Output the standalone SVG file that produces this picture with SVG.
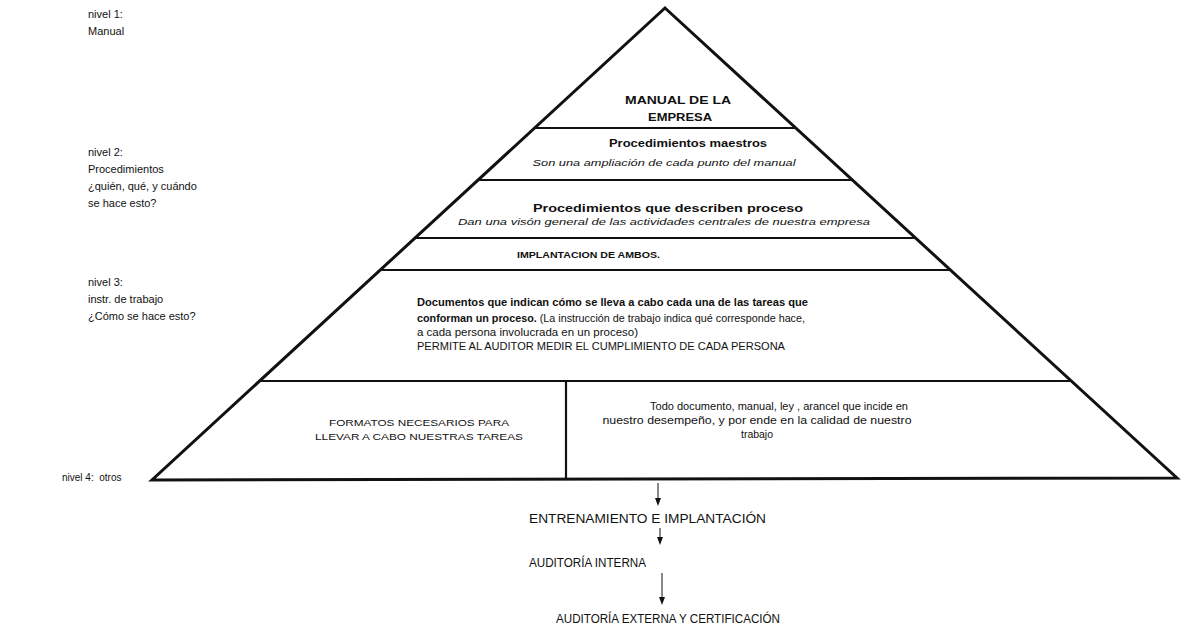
<svg xmlns="http://www.w3.org/2000/svg" width="1181" height="631" viewBox="0 0 1181 631">
  <style>
    text { font-family: "Liberation Sans", Arial, sans-serif; fill: #111; }
    .lbl { font-size: 11px; }
    .b { font-weight: bold; }
    .i { font-style: italic; }
    .c { text-anchor: middle; }
    .edge { fill: none; stroke: #111; stroke-width: 3; stroke-linejoin: miter; }
    .tier { stroke: #111; stroke-width: 2.2; }
    .flow { stroke: #111; stroke-width: 1; }
    .head { fill: #111; }
  </style>
  <rect width="1181" height="631" fill="#fff"/>

  <!-- level captions on the left -->
  <g id="captions">
    <text class="lbl" x="88" y="18">nivel 1:</text>
    <text class="lbl" x="88" y="35">Manual</text>
    <text class="lbl" x="88" y="156">nivel 2:</text>
    <text class="lbl" x="88" y="173">Procedimientos</text>
    <text class="lbl" x="88" y="190">¿quién, qué, y cuándo</text>
    <text class="lbl" x="88" y="207">se hace esto?</text>
    <text class="lbl" x="88" y="286">nivel 3:</text>
    <text class="lbl" x="88" y="303">instr. de trabajo</text>
    <text class="lbl" x="88" y="320">¿Cómo se hace esto?</text>
    <text class="lbl" x="62" y="481" style="font-size:10px; white-space:pre">nivel 4:  otros</text>
  </g>

  <!-- pyramid outline and tier dividers -->
  <g id="pyramid">
    <polygon class="edge" points="665,8 1177,478 152,480"/>
    <line class="tier" x1="535" y1="128" x2="796" y2="128"/>
    <line class="tier" x1="478" y1="180" x2="853" y2="180"/>
    <line class="tier" x1="415" y1="238" x2="916" y2="238"/>
    <line class="tier" x1="380" y1="270" x2="951" y2="270"/>
    <line class="tier" x1="260" y1="381" x2="1072" y2="381"/>
    <line class="tier" x1="566" y1="381" x2="566" y2="479"/>
  </g>

  <g id="tier-manual">
    <text class="b c" x="678" y="104" font-size="11" textLength="106" lengthAdjust="spacingAndGlyphs">MANUAL DE LA</text>
    <text class="b c" x="680" y="121" font-size="11" textLength="64" lengthAdjust="spacingAndGlyphs">EMPRESA</text>
  </g>

  <g id="tier-maestros">
    <text class="b c" x="688" y="147" font-size="11.5" textLength="158" lengthAdjust="spacingAndGlyphs">Procedimientos maestros</text>
    <text class="i c" x="664" y="166" font-size="8.5" textLength="263" lengthAdjust="spacingAndGlyphs">Son una ampliación de cada punto del manual</text>
  </g>

  <g id="tier-proceso">
    <text class="b c" x="668" y="212" font-size="11.5" textLength="270" lengthAdjust="spacingAndGlyphs">Procedimientos que describen proceso</text>
    <text class="i c" x="664" y="225" font-size="8.5" textLength="412" lengthAdjust="spacingAndGlyphs">Dan una visón general de las actividades centrales de nuestra empresa</text>
  </g>

  <g id="tier-implantacion">
    <text class="b" x="517" y="258" font-size="8.5" textLength="143" lengthAdjust="spacingAndGlyphs">IMPLANTACION DE AMBOS.</text>
  </g>

  <g id="tier-instrucciones">
    <text class="b" x="417" y="306" font-size="11.5" textLength="391" lengthAdjust="spacingAndGlyphs">Documentos que indican cómo se lleva a cabo cada una de las tareas que</text>
    <text x="417" y="322" font-size="11" textLength="388" lengthAdjust="spacingAndGlyphs"><tspan class="b">conforman un proceso.</tspan> (La instrucción de trabajo indica qué corresponde hace,</text>
    <text x="417" y="336" font-size="11" textLength="221" lengthAdjust="spacingAndGlyphs">a cada persona involucrada en un proceso)</text>
    <text x="417" y="350" font-size="11" textLength="368" lengthAdjust="spacingAndGlyphs">PERMITE AL AUDITOR MEDIR EL CUMPLIMIENTO DE CADA PERSONA</text>
  </g>

  <g id="tier-formatos">
    <text class="c" x="419" y="426" font-size="8.5" textLength="180" lengthAdjust="spacingAndGlyphs">FORMATOS NECESARIOS PARA</text>
    <text class="c" x="419" y="440" font-size="8.5" textLength="208" lengthAdjust="spacingAndGlyphs">LLEVAR A CABO NUESTRAS TAREAS</text>
  </g>

  <g id="tier-documentos">
    <text class="c" x="779" y="410" font-size="10" textLength="258" lengthAdjust="spacingAndGlyphs">Todo documento, manual, ley , arancel que incide en</text>
    <text class="c" x="757" y="424" font-size="10" textLength="309" lengthAdjust="spacingAndGlyphs">nuestro desempeño, y por ende en la calidad de nuestro</text>
    <text class="c" x="757" y="438" font-size="10" textLength="32" lengthAdjust="spacingAndGlyphs">trabajo</text>
  </g>

  <!-- implementation sequence below the pyramid -->
  <g id="connectors">
    <line class="flow" x1="658" y1="483" x2="658" y2="499"/>
    <path class="head" d="M655,498 L661,498 L658,506 Z"/>
    <line class="flow" x1="660" y1="528" x2="660" y2="538"/>
    <path class="head" d="M657,537 L663,537 L660,545 Z"/>
    <line class="flow" x1="662" y1="573" x2="662" y2="598"/>
    <path class="head" d="M659,597 L665,597 L662,605 Z"/>
  </g>

  <g id="step-entrenamiento">
    <text x="529" y="523" font-size="12" textLength="237" lengthAdjust="spacingAndGlyphs">ENTRENAMIENTO E IMPLANTACIÓN</text>
  </g>
  <g id="step-auditoria-interna">
    <text x="529" y="567" font-size="12" textLength="117" lengthAdjust="spacingAndGlyphs">AUDITORÍA INTERNA</text>
  </g>
  <g id="step-auditoria-externa">
    <text x="556" y="623" font-size="12" textLength="224" lengthAdjust="spacingAndGlyphs">AUDITORÍA EXTERNA Y CERTIFICACIÓN</text>
  </g>
</svg>
